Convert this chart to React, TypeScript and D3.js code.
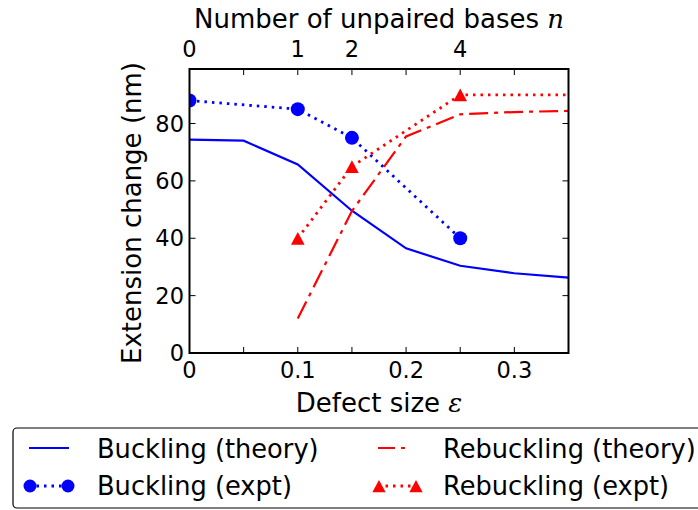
import React from "react";
import * as d3 from "d3";

const epsTheory = [0, 0.05, 0.1, 0.15, 0.2, 0.25, 0.3, 0.35];
const bucklingTheory = [74.4, 74.0, 65.7, 49.6, 36.5, 30.4, 27.8, 26.3];
const epsExpt = [0, 0.1, 0.15, 0.25];
const bucklingExpt = [88, 85, 75, 40];
const epsRebTheory = [0.1, 0.15, 0.2, 0.25, 0.3, 0.35];
const rebucklingTheory = [12, 49.5, 75.5, 83.2, 84.0, 84.4];
const epsRebExpt = [0.1, 0.15, 0.25, 0.45];
const rebucklingExpt = [40, 65, 90, 90];
const xTicks = [0, 0.1, 0.2, 0.3];
const xTickLabels = ["0", "0.1", "0.2", "0.3"];
const xMinorTicks = [0.05, 0.15, 0.25];
const yTicks = [0, 20, 40, 60, 80];
const topTickPos = [0, 0.1, 0.15, 0.25];
const topTickLabels = ["0", "1", "2", "4"];

const W = 698;
const H = 510;
const M = { left: 189.5, right: 568.5, top: 69, bottom: 353 };

export default function App() {
  const x = d3.scaleLinear().domain([0, 0.35]).range([M.left, M.right]);
  const y = d3.scaleLinear().domain([0, 99]).range([M.bottom, M.top]);
  const line = d3
    .line<[number, number]>()
    .x((d) => x(d[0]))
    .y((d) => y(d[1]));
  const zip = (a: number[], b: number[]) => a.map((v, i) => [v, b[i]] as [number, number]);
  const bt = zip(epsTheory, bucklingTheory);
  const be = zip(epsExpt, bucklingExpt);
  const rt = zip(epsRebTheory, rebucklingTheory);
  const re = zip(epsRebExpt, rebucklingExpt);
  const font = "DejaVu Sans, sans-serif";
  const tickLen = 6;
  const allXTicks = [...xTicks, ...xMinorTicks];
  const tri = (cx: number, cy: number, s: number) =>
    `M${cx},${cy - s}L${cx + s * 0.95},${cy + s * 0.75}L${cx - s * 0.95},${cy + s * 0.75}Z`;
  const blue = "#0000ff";
  const red = "#ff0000";
  const dashDot = "19,6,4,6";
  const dotted = "2.5,5";
  const tickFs = 22.5;
  const labelFs = 26;
  const legFs = 25.7;

  return (
    <svg
      width={W}
      height={H}
      style={{ position: "absolute", left: 0, top: 0, background: "#fff" }}
      fontFamily={font}
    >
      <defs>
        <clipPath id="plotclip">
          <rect x={M.left} y={M.top} width={M.right - M.left} height={M.bottom - M.top} />
        </clipPath>
      </defs>
      <rect x={0} y={0} width={W} height={H} fill="#fff" />
      <g clipPath="url(#plotclip)">
        <path d={line(bt) || ""} fill="none" stroke={blue} strokeWidth={2.2} />
        <path d={line(rt) || ""} fill="none" stroke={red} strokeWidth={2.2} strokeDasharray={dashDot} />
        <path d={line(be) || ""} fill="none" stroke={blue} strokeWidth={2.8} strokeDasharray={dotted} />
        <path d={line(re) || ""} fill="none" stroke={red} strokeWidth={2.8} strokeDasharray={dotted} />
        {be.map((d, i) => (
          <circle key={"bc" + i} cx={x(d[0])} cy={y(d[1])} r={7} fill={blue} />
        ))}
        {re.map((d, i) => (
          <path key={"rt" + i} d={tri(x(d[0]), y(d[1]) + 1, 7.2)} fill={red} />
        ))}
      </g>
      <rect
        x={M.left}
        y={M.top}
        width={M.right - M.left}
        height={M.bottom - M.top}
        fill="none"
        stroke="#000"
        strokeWidth={2}
      />
      {allXTicks.map((t, i) => (
        <g key={"xt" + i}>
          <line x1={x(t)} x2={x(t)} y1={M.bottom} y2={M.bottom - tickLen} stroke="#000" strokeWidth={1} />
          <line x1={x(t)} x2={x(t)} y1={M.top} y2={M.top + tickLen} stroke="#000" strokeWidth={1} />
        </g>
      ))}
      {xTicks.map((t, i) => (
        <text key={"xl" + i} x={x(t)} y={378} fontSize={tickFs} textAnchor="middle">
          {xTickLabels[i]}
        </text>
      ))}
      {yTicks.map((t, i) => (
        <g key={"yt" + i}>
          <line x1={M.left} x2={M.left + tickLen} y1={y(t)} y2={y(t)} stroke="#000" strokeWidth={1} />
          <line x1={M.right} x2={M.right - tickLen} y1={y(t)} y2={y(t)} stroke="#000" strokeWidth={1} />
          <text x={184} y={y(t) + 8} fontSize={tickFs} textAnchor="end">
            {String(t)}
          </text>
        </g>
      ))}
      {topTickPos.map((t, i) => (
        <text key={"tl" + i} x={x(t)} y={57} fontSize={tickFs} textAnchor="middle">
          {topTickLabels[i]}
        </text>
      ))}
      <text x={(M.left + M.right) / 2} y={28} fontSize={labelFs} textAnchor="middle">
        Number of unpaired bases{" "}
        <tspan fontStyle="italic" fontFamily="DejaVu Serif, serif">n</tspan>
      </text>
      <text x={(M.left + M.right) / 2} y={412} fontSize={labelFs} textAnchor="middle">
        Defect size{" "}
        <tspan fontStyle="italic" fontFamily="DejaVu Serif, serif">ε</tspan>
      </text>
      <text
        transform={`translate(141, ${(M.top + M.bottom) / 2 + 2}) rotate(-90)`}
        fontSize={labelFs}
        textAnchor="middle"
      >
        Extension change (nm)
      </text>
      <rect x={13} y={428} width={720} height={80} rx={4} fill="#fff" stroke="#000" strokeWidth={1.2} />
      <line x1={29} x2={69} y1={448} y2={448} stroke={blue} strokeWidth={2.2} />
      <text x={97} y={458} fontSize={legFs}>Buckling (theory)</text>
      <line x1={29} x2={69} y1={486} y2={486} stroke={blue} strokeWidth={2.8} strokeDasharray={dotted} />
      <circle cx={30} cy={486} r={6.5} fill={blue} />
      <circle cx={68} cy={486} r={6.5} fill={blue} />
      <text x={97} y={495} fontSize={legFs}>Buckling (expt)</text>
      <line x1={378} x2={410} y1={448} y2={448} stroke={red} strokeWidth={2.2} strokeDasharray="17,6,4,6" />
      <text x={443} y={458} fontSize={legFs}>Rebuckling (theory)</text>
      <line x1={378} x2={416} y1={486} y2={486} stroke={red} strokeWidth={2.8} strokeDasharray={dotted} />
      <path d={tri(379, 487, 7)} fill={red} />
      <path d={tri(416, 487, 7)} fill={red} />
      <text x={443} y={495} fontSize={legFs}>Rebuckling (expt)</text>
    </svg>
  );
}
